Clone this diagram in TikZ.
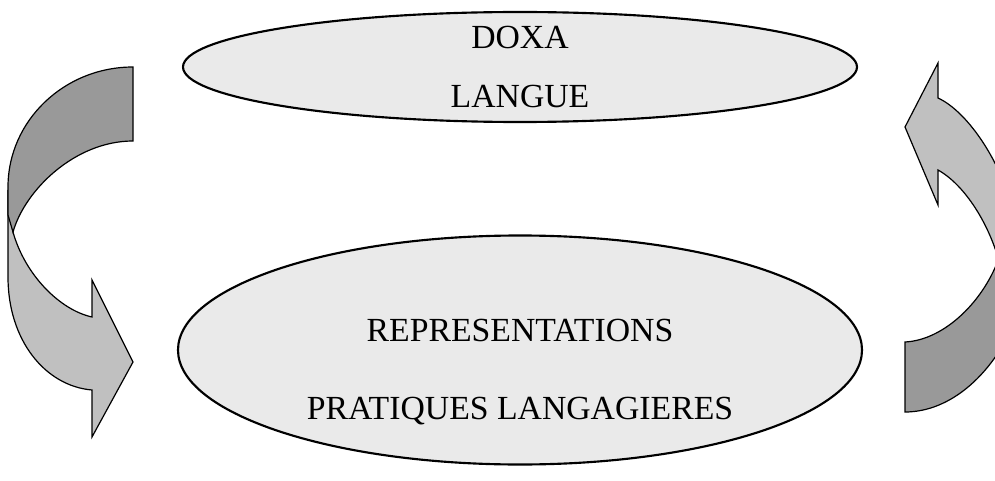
\documentclass[tikz,border=0pt]{standalone}
\usepackage{fontspec}
\setmainfont{Liberation Serif}
\usetikzlibrary{shapes.geometric}
\definecolor{ellfill}{RGB}{234,234,234}
\definecolor{darkband}{RGB}{153,153,153}
\definecolor{lightband}{RGB}{192,192,192}
\tikzset{
  ell/.style={draw=black, line width=1.6pt, fill=ellfill, ellipse, inner sep=0pt},
  lbl/.style={anchor=base, inner sep=0pt, font=\fontsize{25.3}{30}\selectfont},
  darkpart/.style={draw=black, line width=0.9pt, fill=darkband, line join=miter},
  lightpart/.style={draw=black, line width=0.9pt, fill=lightband, line join=miter}
}
\begin{document}
\begin{tikzpicture}[x=0.75pt, y=-0.75pt]
\useasboundingbox (0,0) rectangle (995,481);
% ellipses
\node[ell, minimum width=505.5pt, minimum height=82.5pt] (top) at (520,67) {};
\node[ell, minimum width=513pt, minimum height=171.75pt] (bot) at (520,350) {};
% texts
\node[lbl] (doxa) at (520,49) {DOXA};
\node[lbl] (langue) at (520,108) {LANGUE};
\node[lbl] (repr) at (520,341) {REPRESENTATIONS};
\node[lbl] (prat) at (520,419) {PRATIQUES LANGAGIERES};
% left curved arrow
\path[lightpart] (8,190) -- (8,277) .. controls (8,340) and (45,386) .. (92,390)
  -- (92,437) -- (133,362) -- (92,280) -- (92,317)
  .. controls (60,310) and (25,275) .. (13,232) -- cycle;
\path[darkpart] (133,67) -- (133,141) .. controls (75,141) and (25,190) .. (13,232)
  -- (8,215) -- (8,187) .. controls (8,121) and (64,67) .. (133,67) -- cycle;
% right curved arrow (clipped by the picture edge)
\begin{scope}
\clip (0,0) rectangle (995,481);
\path[lightpart] (905,127) -- (938,63) -- (938,98)
  .. controls (975,115) and (1020,190) .. (1020,260)
  -- (1050,260) -- (1050,285) -- (1002,285) -- (1000,265)
  .. controls (990,225) and (965,185) .. (938,170) -- (938,205) -- cycle;
\path[darkpart] (905,342) .. controls (945,340) and (985,300) .. (1000,255)
  -- (1050,255) -- (1050,310) -- (1020,310)
  .. controls (995,375) and (950,412) .. (905,412) -- cycle;
\end{scope}
\end{tikzpicture}
\end{document}
